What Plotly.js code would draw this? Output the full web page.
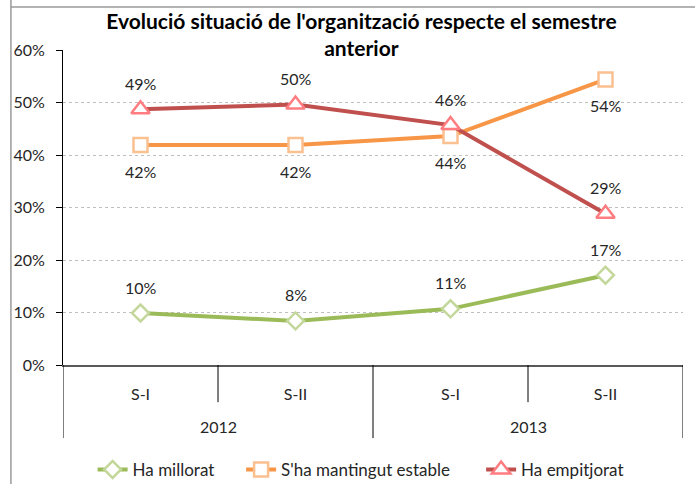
<!DOCTYPE html>
<html>
<head>
<meta charset="utf-8">
<script src="https://cdn.plot.ly/plotly-3.0.1.min.js"></script>
<style>
html,body{margin:0;padding:0;background:#fff;}
#chart{width:695px;height:484px;}
</style>
</head>
<body>
<div id="chart"></div>
<script>
// ---- Data ----
const semesters = ["S-I", "S-II", "S-I", "S-II"];
const years = ["2012", "2013"];
const seriesNames = ["Ha millorat", "S'ha mantingut estable", "Ha empitjorat"];
const millorat = [9.9, 8.4, 10.7, 17.1];
const estable = [41.9, 41.9, 43.6, 54.4];
const empitjorat = [48.7, 49.6, 45.7, 28.8];

// ---- Styles ----
const FONT = "Lato, 'Open Sans', sans-serif";
const TXT = "#262626";
const xIdx = semesters.map((_, i) => i);
const legendPad = ["&nbsp;&nbsp;&nbsp;&nbsp;&nbsp;", "&nbsp;&nbsp;&nbsp;&nbsp;&nbsp;&nbsp;", ""];

const styles = [
  {color: "#9bbb59", symbol: "diamond", size: 13, outline: "#c4d79b", shift: 26},
  {color: "#f79646", symbol: "square", size: 14, outline: "#fac090", shift: -26},
  {color: "#c0504d", symbol: "triangle-up", size: 16, outline: "#ff7c80", shift: 26}
];
const allSeries = [millorat, estable, empitjorat];

const traces = allSeries.map((vals, k) => ({
  type: "scatter",
  mode: "lines+markers",
  name: seriesNames[k] + legendPad[k],
  x: xIdx,
  y: vals,
  line: {color: styles[k].color, width: 4},
  marker: {symbol: styles[k].symbol, size: styles[k].size, color: "#ffffff",
           line: {color: styles[k].outline, width: 2.5}},
  hoverinfo: "skip"
}));

const annotations = [];
allSeries.forEach((vals, k) => {
  vals.forEach((v, i) => {
    annotations.push({
      x: xIdx[i], y: v, xref: "x", yref: "y",
      text: Math.round(v) + "%", showarrow: false,
      yshift: styles[k].shift,
      font: {family: FONT, size: 16, color: TXT}
    });
  });
});
// year labels (group centers)
years.forEach((yr, g) => {
  annotations.push({
    x: g * 2 + 0.5, xref: "x", y: -0.194, yref: "paper",
    text: yr, showarrow: false, yanchor: "middle",
    font: {family: FONT, size: 16, color: TXT}
  });
});

// category dividers
const shapes = [];
for (let b = -0.5; b <= semesters.length - 0.5; b += 1) {
  const outer = (Math.round(b + 0.5) % 2 === 0);
  shapes.push({type: "line", xref: "x", yref: "paper", x0: b, x1: b,
    y0: 0, y1: outer ? -0.232 : -0.118, line: {color: "#000", width: 1}});
}
// chart border (left + top)
shapes.push({type: "line", xref: "paper", yref: "paper", x0: -0.084, x1: -0.084,
  y0: -0.5, y1: 1.3, line: {color: "#9a9a9a", width: 1.5}});
shapes.push({type: "line", xref: "paper", yref: "paper", x0: -0.084, x1: 1.2,
  y0: 1.1365, y1: 1.1365, line: {color: "#9a9a9a", width: 1.5}});

const layout = {
  width: 695, height: 484,
  margin: {l: 63, r: 12, t: 50, b: 119, autoexpand: false},
  paper_bgcolor: "#fff", plot_bgcolor: "#fff",
  showlegend: true,
  title: {
    text: "Evolució situació de l'organització respecte el semestre<br>anterior",
    font: {family: FONT, size: 21, color: "#000", weight: "bold"},
    x: 0.52, xref: "container", xanchor: "center",
    y: 0.94, yref: "container", yanchor: "top"
  },
  xaxis: {
    range: [-0.5, semesters.length - 0.5],
    tickvals: xIdx, ticktext: semesters,
    ticks: "", showgrid: false, zeroline: false,
    showline: true, linecolor: "#595959", linewidth: 2,
    ticklabelstandoff: 14,
    tickfont: {family: FONT, size: 16, color: TXT},
    fixedrange: true
  },
  yaxis: {
    range: [0, 60], dtick: 10, ticksuffix: "%",
    showgrid: true, gridcolor: "#bfbfbf", griddash: "dot", gridwidth: 1,
    zeroline: false, showline: true, linecolor: "#000", linewidth: 1,
    ticks: "outside", ticklen: 6, tickcolor: "#000",
    ticklabelstandoff: 8,
    tickfont: {family: FONT, size: 16, color: TXT},
    fixedrange: true
  },
  legend: {
    orientation: "h", x: 0.48, xanchor: "center", y: -0.333, yanchor: "middle",
    font: {family: FONT, size: 17, color: TXT},
    itemclick: false, itemdoubleclick: false
  },
  annotations: annotations,
  shapes: shapes
};

Plotly.newPlot("chart", traces, layout, {displayModeBar: false, staticPlot: true});
</script>
</body>
</html>
